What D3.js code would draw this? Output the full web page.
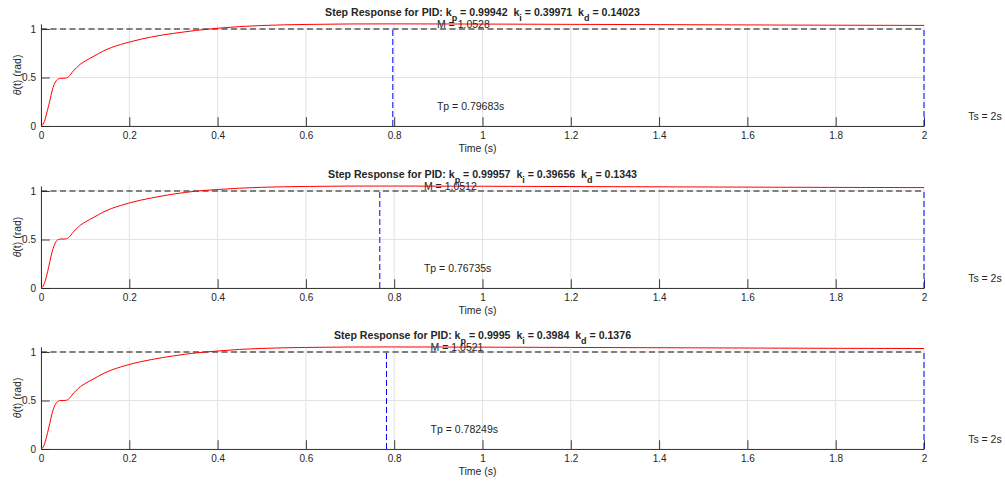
<!DOCTYPE html>
<html>
<head>
<meta charset="utf-8">
<script src="https://cdn.jsdelivr.net/npm/d3@7"></script>
<style>
  body { margin: 0; background: #fff; }
  text { font-family: "Liberation Sans", Arial, Helvetica, sans-serif; fill: #262626; }
</style>
</head>
<body>
<div id="chart"></div>
<script>
// Time samples (s) shared by the three step responses
const timeS = [0, 0.005, 0.01, 0.015, 0.02, 0.025, 0.03, 0.035, 0.04, 0.045, 0.05, 0.055, 0.06, 0.065, 0.07,
    0.08, 0.09, 0.1, 0.12, 0.14, 0.16, 0.18, 0.2, 0.25, 0.3, 0.35, 0.4, 0.45, 0.5, 0.6, 0.7, 0.8, 0.9,
    1.0, 1.2, 1.4, 1.6, 1.8, 2.0];

// theta(t)
const theta1 = [0, 0.02, 0.08, 0.17, 0.26, 0.36, 0.43, 0.47, 0.487, 0.492, 0.492, 0.493, 0.50, 0.52, 0.55,
    0.60, 0.64, 0.67, 0.72, 0.77, 0.81, 0.84, 0.865, 0.918, 0.955, 0.985, 1.008, 1.025, 1.036, 1.047, 1.052, 1.0528, 1.052,
    1.051, 1.048, 1.045, 1.042, 1.039, 1.037];
const theta2 = [0, 0.02, 0.08, 0.17, 0.27, 0.37, 0.44, 0.485, 0.50, 0.505, 0.505, 0.506, 0.513, 0.53, 0.56,
    0.61, 0.65, 0.68, 0.73, 0.78, 0.82, 0.85, 0.877, 0.928, 0.968, 0.998, 1.015, 1.029, 1.038, 1.047, 1.0508, 1.0511, 1.050,
    1.049, 1.046, 1.043, 1.040, 1.037, 1.035];
const theta3 = [0, 0.02, 0.08, 0.17, 0.265, 0.365, 0.435, 0.478, 0.495, 0.50, 0.50, 0.501, 0.507, 0.525, 0.555,
    0.605, 0.645, 0.675, 0.725, 0.775, 0.815, 0.845, 0.872, 0.922, 0.96, 0.99, 1.01, 1.027, 1.037, 1.047, 1.0515, 1.052, 1.0515,
    1.050, 1.047, 1.044, 1.041, 1.038, 1.036];

// Gains and step metrics for each subplot
const kpLabels = ["0.99942", "0.99957", "0.9995"];
const kiLabels = ["0.39971", "0.39656", "0.3984"];
const kdLabels = ["0.14023", "0.1343", "0.1376"];
const peakTimes = [0.79683, 0.76735, 0.78249];
const peakValues = [1.0528, 1.0512, 1.0521];
const settleTimes = [2, 2, 2];

const xTicks = [0, 0.2, 0.4, 0.6, 0.8, 1, 1.2, 1.4, 1.6, 1.8, 2];
const xTickLabels = ["0", "0.2", "0.4", "0.6", "0.8", "1", "1.2", "1.4", "1.6", "1.8", "2"];
const yTicks = [0, 0.5, 1];
const yTickLabels = ["0", "0.5", "1"];

const seriesList = [theta1, theta2, theta3];

// Layout
const width = 1005;
const height = 483;
const plotLeft = 41;
const plotRight = 924;
const panelBottoms = [126, 288, 449];
const unitPx = 97;

const svg = d3.select("#chart")
    .append("svg")
    .attr("width", width)
    .attr("height", height)
    .style("background", "#fff");

const xScale = d3.scaleLinear().domain([0, 2]).range([plotLeft, plotRight]);

seriesList.forEach((series, i) => {
    const bottom = panelBottoms[i];
    const M = peakValues[i];
    const Tp = peakTimes[i];
    const Ts = settleTimes[i];
    const yScale = d3.scaleLinear().domain([0, M]).range([bottom, bottom - M * unitPx]);
    const g = svg.append("g");

    // grid
    g.selectAll(".vgrid").data(xTicks).enter().append("line")
        .attr("x1", d => xScale(d)).attr("x2", d => xScale(d))
        .attr("y1", yScale(0)).attr("y2", yScale(M))
        .attr("stroke", "#e3e3e3").attr("stroke-width", 1);
    g.selectAll(".hgrid").data(yTicks).enter().append("line")
        .attr("x1", xScale(0)).attr("x2", xScale(2))
        .attr("y1", d => yScale(d)).attr("y2", d => yScale(d))
        .attr("stroke", "#e3e3e3").attr("stroke-width", 1);

    // reference line at 1
    g.append("line")
        .attr("x1", xScale(0)).attr("x2", xScale(2))
        .attr("y1", yScale(1)).attr("y2", yScale(1))
        .attr("stroke", "#111").attr("stroke-width", 1.1)
        .attr("stroke-dasharray", "6,3.5");

    // axes
    const xAxis = d3.axisBottom(xScale)
        .tickValues(xTicks)
        .tickFormat((d, j) => xTickLabels[j])
        .tickSizeInner(-8.8).tickSizeOuter(0).tickPadding(6);
    const gx = g.append("g").attr("transform", `translate(0, ${bottom})`).call(xAxis);
    const yAxis = d3.axisLeft(yScale)
        .tickValues(yTicks)
        .tickFormat((d, j) => yTickLabels[j])
        .tickSizeInner(-8.8).tickSizeOuter(0).tickPadding(5);
    const gy = g.append("g").attr("transform", `translate(${plotLeft}, 0)`).call(yAxis);
    [gx, gy].forEach(a => {
        a.selectAll("path, line").attr("stroke", "#262626").attr("stroke-width", 0.9);
        a.selectAll("text").style("font-size", "10px").attr("fill", "#262626")
            .style("font-family", "'Liberation Sans', Arial, sans-serif");
    });

    // response curve
    const line = d3.line()
        .x((d, j) => xScale(timeS[j]))
        .y(d => yScale(d))
        .curve(d3.curveMonotoneX);
    g.append("path")
        .datum(series)
        .attr("d", line)
        .attr("fill", "none")
        .attr("stroke", "#ff0000")
        .attr("stroke-width", 1);

    // Tp and Ts markers
    [Tp, Ts].forEach(t => {
        g.append("line")
            .attr("x1", xScale(t)).attr("x2", xScale(t))
            .attr("y1", yScale(0)).attr("y2", yScale(1))
            .attr("stroke", "#0000ff").attr("stroke-width", 1)
            .attr("stroke-dasharray", "6,3");
    });

    // annotations
    g.append("text")
        .attr("x", xScale(Tp + 0.1)).attr("y", yScale(M)).attr("dy", "0.35em")
        .style("font-size", "10.5px")
        .text(`M = ${M}`);
    g.append("text")
        .attr("x", xScale(Tp + 0.1)).attr("y", yScale(0.2)).attr("dy", "0.35em")
        .style("font-size", "10.5px")
        .text(`Tp = ${Tp}s`);
    g.append("text")
        .attr("x", xScale(Ts + 0.1)).attr("y", yScale(0.1)).attr("dy", "0.35em")
        .style("font-size", "10.5px")
        .text(`Ts = ${Ts}s`);

    // axis labels
    g.append("text")
        .attr("x", (plotLeft + plotRight) / 2 - 5)
        .attr("y", bottom + 26)
        .attr("text-anchor", "middle")
        .style("font-size", "10.5px")
        .text("Time (s)");

    const yl = g.append("text")
        .attr("transform", `translate(21, ${(yScale(0) + yScale(M)) / 2}) rotate(-90)`)
        .attr("text-anchor", "middle")
        .style("font-size", "10.5px")
        .style("white-space", "pre");
    yl.append("tspan").style("font-style", "italic").text("θ");
    yl.append("tspan").text("(t) (rad)");

    // title with subscripts
    const title = g.append("text")
        .attr("x", (plotLeft + plotRight) / 2)
        .attr("y", yScale(M) - 8)
        .attr("text-anchor", "middle")
        .style("font-size", "10.6px")
        .style("font-weight", "bold")
        .style("white-space", "pre");
    const parts = [
        ["Step Response for PID: k", null], ["p", "sub"], [` = ${kpLabels[i]}  k`, null],
        ["i", "sub"], [` = ${kiLabels[i]}  k`, null], ["d", "sub"], [` = ${kdLabels[i]}`, null]
    ];
    parts.forEach(([txt, kind]) => {
        const ts = title.append("tspan").text(txt);
        if (kind === "sub") ts.attr("dy", 5).style("font-size", "9px");
        else if (txt.startsWith(" =")) ts.attr("dy", -5);
    });
});
</script>
</body>
</html>
